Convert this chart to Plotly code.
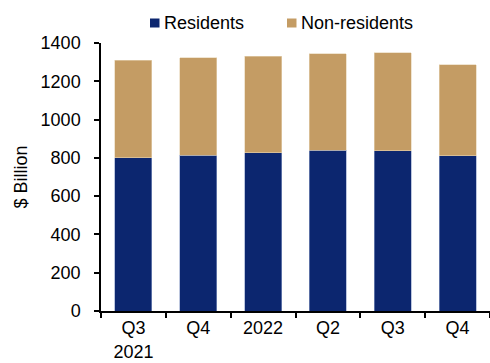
import plotly.graph_objects as go

# Quarterly holdings, $ billion
quarters = ["Q3<br>2021", "Q4", "2022", "Q2", "Q3", "Q4"]
residents = [800, 813, 827, 839, 836, 811]
non_residents = [510, 509, 505, 504, 512, 476]
series_names = ["Residents", "Non-residents"]

NAVY = "#0C266F"
TAN = "#C49C64"
FONT = "Liberation Sans, Arial, sans-serif"

# positions of the quarters on a category axis (labels come from ticktext)
pos = list(range(len(quarters)))

fig = go.Figure()
fig.add_trace(go.Bar(
    name=series_names[0], x=pos, y=residents,
    marker=dict(color=NAVY, line=dict(color="#8FA0C8", width=0.6)),
))
fig.add_trace(go.Bar(
    name=series_names[1], x=pos, y=non_residents,
    marker=dict(color=TAN, line=dict(color="#E6D3B4", width=0.6)),
))

# compact legend across the top: small square swatch followed by its label
legend_items = [(series_names[0], NAVY, 150), (series_names[1], TAN, 287)]
for name, color, px in legend_items:
    x0 = (px - 101) / 389
    x1 = (px + 9.5 - 101) / 389
    fig.add_shape(type="rect", xref="paper", yref="paper",
                  x0=x0, x1=x1, y0=(311 - 27.5) / 268, y1=(311 - 18.5) / 268,
                  fillcolor=color, line=dict(width=0))
    fig.add_annotation(text=name, xref="paper", yref="paper",
                       x=(px + 12 - 101) / 389, y=(311 - 23) / 268,
                       xanchor="left", yanchor="middle", showarrow=False,
                       font=dict(size=18, family=FONT, color="black"))

fig.update_layout(
    barmode="stack",
    bargap=0.43,
    width=490, height=363,
    margin=dict(l=101, r=0, t=43, b=52),
    paper_bgcolor="white", plot_bgcolor="white",
    font=dict(family=FONT, size=18, color="black"),
    showlegend=False,
    xaxis=dict(
        type="category", tickmode="array", tickvals=pos, ticktext=quarters,
        showline=True, linecolor="black", linewidth=1.5,
        ticks="outside", tickson="boundaries", ticklen=5, tickwidth=1.5,
        tickcolor="black", showgrid=False, tickfont=dict(size=18),
    ),
    yaxis=dict(
        range=[0, 1400], dtick=200, showline=True, linecolor="black",
        linewidth=1.5, ticks="outside", ticklen=5, tickwidth=1.5,
        tickcolor="black", showgrid=False, zeroline=False,
        tickfont=dict(size=18), ticklabelstandoff=10,
        title=dict(text="$ Billion", font=dict(size=18), standoff=8),
    ),
)

fig.write_html("out.html")
